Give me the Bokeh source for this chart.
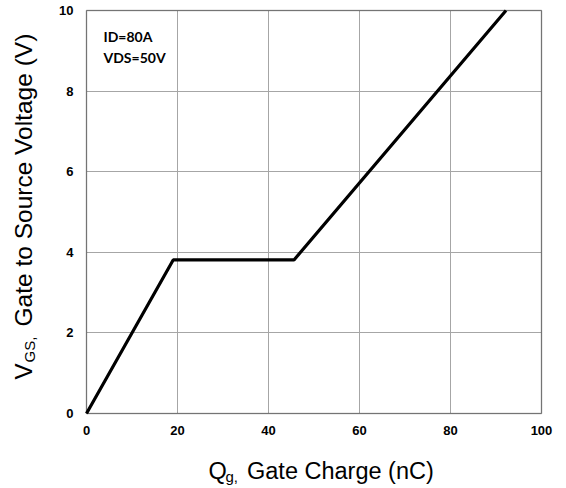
import math
from bokeh.plotting import figure
from bokeh.models import Label, FixedTicker, Range1d, BoxAnnotation
from bokeh.embed import file_html
from bokeh.resources import INLINE

# Data
qg_nc = [0.0, 19.05, 45.6, 92.2]
vgs_v = [0.0, 3.81, 3.81, 10.0]
x_ticks = [0, 20, 40, 60, 80, 100]
y_ticks = [0, 2, 4, 6, 8, 10]
note_lines = ["ID=80A", "VDS=50V"]

# Layout (pixels): plot box inside the canvas
W, H = 560, 488
BOX_L, BOX_R, BOX_T, BOX_B = 86, 541, 10, 413
X0, X1 = x_ticks[0], x_ticks[-1]
Y0, Y1 = y_ticks[0], y_ticks[-1]
sx = (BOX_R - BOX_L) / (X1 - X0)
sy = (BOX_B - BOX_T) / (Y1 - Y0)

def dx(px):
    return X0 + (px - BOX_L) / sx

def dy(py):
    return Y0 + (BOX_B - py) / sy

p = figure(width=W, height=H, output_backend="svg", toolbar_location=None,
           x_range=Range1d(dx(0), dx(W)), y_range=Range1d(dy(H), dy(0)),
           min_border=0, min_border_left=0, min_border_right=0,
           min_border_top=0, min_border_bottom=0)
p.background_fill_color = "white"
p.border_fill_color = "white"
p.outline_line_color = None

for ax in (p.xaxis[0], p.yaxis[0]):
    ax.axis_line_color = None
    ax.major_tick_in = 0
    ax.major_tick_out = 0
    ax.minor_tick_line_color = None
    ax.major_label_text_font = "Liberation Sans"
    ax.major_label_text_font_style = "bold"
    ax.major_label_text_font_size = "13px"
    ax.major_label_text_color = "black"

p.xaxis.ticker = FixedTicker(ticks=x_ticks)
p.yaxis.ticker = FixedTicker(ticks=y_ticks)
p.xaxis.fixed_location = Y0
p.yaxis.fixed_location = X0
p.xaxis.bounds = (X0, X1)
p.yaxis.bounds = (Y0, Y1)
p.xaxis.major_label_standoff = 12
p.yaxis.major_label_standoff = 13

xg, yg = p.xgrid[0], p.ygrid[0]
xg.bounds = (X0, X1)
yg.bounds = (Y0, Y1)
use_cross = "cross_bounds" in xg.properties()
if use_cross:
    xg.cross_bounds = (Y0, Y1)
    yg.cross_bounds = (X0, X1)
    for g in (xg, yg):
        g.grid_line_color = "#a6a6a6"
        g.grid_line_width = 1
else:
    xg.grid_line_color = None
    yg.grid_line_color = None
    inner_x = x_ticks[1:-1]
    inner_y = y_ticks[1:-1]
    p.segment(x0=inner_x, y0=[Y0] * len(inner_x), x1=inner_x, y1=[Y1] * len(inner_x),
              line_color="#a6a6a6", line_width=1)
    p.segment(x0=[X0] * len(inner_y), y0=inner_y, x1=[X1] * len(inner_y), y1=inner_y,
              line_color="#a6a6a6", line_width=1)

# plot box outline
p.add_layout(BoxAnnotation(left=X0, right=X1, bottom=Y0, top=Y1, fill_alpha=0,
                           line_color="black", line_width=1.5, level="underlay"))

p.line(qg_nc, vgs_v, line_color="black", line_width=3.2)

# Annotation text inside the plot
for t, py in zip(note_lines, [35.7, 56.7]):
    p.add_layout(Label(x=dx(103), y=dy(py), text=t, text_font="Lato", text_font_style="bold",
                       text_font_size="14px", text_color="black", text_baseline="alphabetic"))

# X axis title with subscript
tf = "Liberation Sans"
p.add_layout(Label(x=dx(208), y=dy(470), text="Q", text_font=tf, text_font_size="23.5px",
                   text_color="black", text_baseline="alphabetic"))
p.add_layout(Label(x=dx(225), y=dy(476), text="g,", text_font=tf, text_font_size="15px",
                   text_color="black", text_baseline="alphabetic"))
p.add_layout(Label(x=dx(246.5), y=dy(470), text="Gate Charge (nC)", text_font=tf,
                   text_font_size="23.5px", text_color="black", text_baseline="alphabetic"))

# Y axis title with subscript (rotated)
a = math.pi / 2
p.add_layout(Label(x=dx(23), y=dy(379), text="V", angle=a, text_font=tf, text_font_size="24px",
                   text_color="black", text_baseline="alphabetic"))
p.add_layout(Label(x=dx(29), y=dy(362), text="GS,", angle=a, text_font=tf, text_font_size="15px",
                   text_color="black", text_baseline="alphabetic"))
p.add_layout(Label(x=dx(23), y=dy(326), text="Gate to Source Voltage (V)", angle=a, text_font=tf,
                   text_font_size="24.5px", text_color="black", text_baseline="alphabetic"))

open("out.html", "w").write(file_html(p, INLINE))
